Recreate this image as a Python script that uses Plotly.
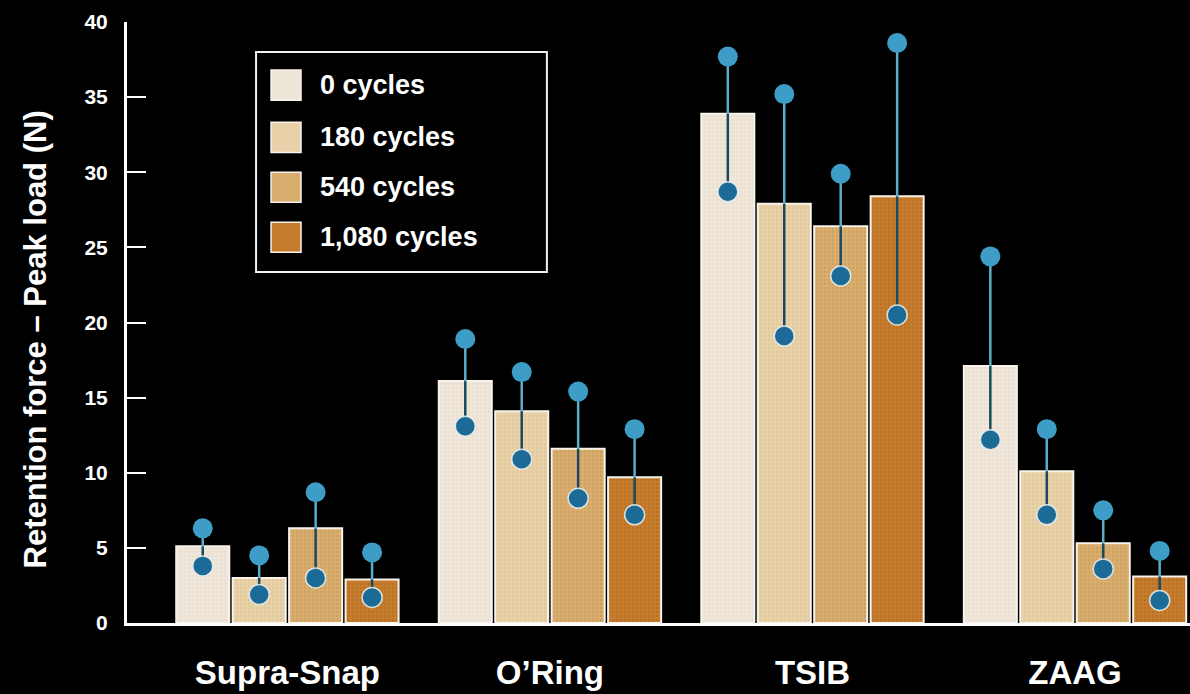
import plotly.graph_objects as go

# ---------------- data ----------------
categories = ["Supra-Snap", "O\u2019Ring", "TSIB", "ZAAG"]
series_names = ["0 cycles", "180 cycles", "540 cycles", "1,080 cycles"]

mean_0 = [5.1, 16.1, 33.9, 17.1]
mean_180 = [3.0, 14.1, 27.9, 10.1]
mean_540 = [6.3, 11.6, 26.4, 5.3]
mean_1080 = [2.9, 9.7, 28.4, 3.1]

upper_0 = [6.3, 18.9, 37.7, 24.4]
upper_180 = [4.5, 16.7, 35.2, 12.9]
upper_540 = [8.7, 15.4, 29.9, 7.5]
upper_1080 = [4.7, 12.9, 38.6, 4.8]

lower_0 = [3.8, 13.1, 28.7, 12.2]
lower_180 = [1.9, 10.9, 19.1, 7.2]
lower_540 = [3.0, 8.3, 23.1, 3.6]
lower_1080 = [1.7, 7.2, 20.5, 1.5]

y_ticks = [0, 5, 10, 15, 20, 25, 30, 35, 40]
y_title = "Retention force \u2013 Peak load (N)"

# ---------------- styling ----------------
bar_colors = ["#efe6da", "#e8d1a8", "#d9ad6d", "#c57c2c"]
texture_colors = ["#e2d6c6", "#d6bb8c", "#c0914f", "#a8621c"]
FONT = "Liberation Sans, Arial, Helvetica, sans-serif"
upper_dot = "#3d9dc7"
lower_dot = "#1c6b97"
upper_line = "#5aaec9"
lower_line = "#1b4a60"

means = [mean_0, mean_180, mean_540, mean_1080]
uppers = [upper_0, upper_180, upper_540, upper_1080]
lowers = [lower_0, lower_180, lower_540, lower_1080]

slot = 0.215
bar_w = 0.202
group_pos = list(range(len(categories)))
n = len(series_names)

fig = go.Figure()
xs_all = []
for i, name in enumerate(series_names):
    off = (i - (n - 1) / 2) * slot
    xs = [g + off for g in group_pos]
    xs_all.append(xs)
    fig.add_trace(go.Bar(
        x=xs, y=means[i], width=bar_w, name=name, showlegend=False,
        marker=dict(color=bar_colors[i],
                    line=dict(color="#f7f2ea", width=2),
                    pattern=dict(shape=".", fillmode="overlay", fgcolor=texture_colors[i],
                                 size=4, solidity=0.25)),
        hoverinfo="skip",
    ))

# error segments
for i in range(n):
    ux, uy, lx, ly = [], [], [], []
    for x, m, u, l in zip(xs_all[i], means[i], uppers[i], lowers[i]):
        ux += [x, x, None]
        uy += [m, u, None]
        lx += [x, x, None]
        ly += [l, m, None]
    fig.add_trace(go.Scatter(x=ux, y=uy, mode="lines", line=dict(color=upper_line, width=2.5),
                             showlegend=False, hoverinfo="skip"))
    fig.add_trace(go.Scatter(x=lx, y=ly, mode="lines", line=dict(color=lower_line, width=2.5),
                             showlegend=False, hoverinfo="skip"))

for i in range(n):
    fig.add_trace(go.Scatter(x=xs_all[i], y=uppers[i], mode="markers",
                             marker=dict(color=upper_dot, size=20, line=dict(width=0)),
                             showlegend=False, hoverinfo="skip"))
    fig.add_trace(go.Scatter(x=xs_all[i], y=lowers[i], mode="markers",
                             marker=dict(color=lower_dot, size=20,
                                         line=dict(color="rgba(235,240,240,0.85)", width=1.5)),
                             showlegend=False, hoverinfo="skip"))

# ---------------- manual legend ----------------
shapes = []
annotations = []
box_x0, box_x1 = 0.1214, 0.395
box_y0, box_y1 = 0.584, 0.950
shapes.append(dict(type="rect", xref="paper", yref="paper", x0=box_x0, x1=box_x1,
                   y0=box_y0, y1=box_y1, line=dict(color="#f2f2f2", width=2),
                   fillcolor="black", layer="above"))
row_tops = [0.895, 0.808, 0.725, 0.642]
for i, name in enumerate(series_names):
    yc = row_tops[i]
    shapes.append(dict(type="rect", xref="paper", yref="paper", x0=0.1355, x1=0.1637,
                       y0=yc - 0.025, y1=yc + 0.025, line=dict(color="#f7f2ea", width=1.5),
                       fillcolor=bar_colors[i], layer="above"))
    annotations.append(dict(xref="paper", yref="paper", x=0.1797, y=yc, text=name,
                            showarrow=False, xanchor="left", yanchor="middle",
                            font=dict(family=FONT, size=27, color="white", weight="bold")))

annotations.append(dict(xref="paper", yref="paper", x=0, y=0.5, xshift=-92, yshift=-17,
                        text=y_title, textangle=-90, showarrow=False,
                        xanchor="center", yanchor="middle",
                        font=dict(family=FONT, size=31, color="white", weight="bold")))

fig.update_layout(
    width=1190, height=694,
    margin=dict(l=127, r=0, t=22, b=71),
    paper_bgcolor="black", plot_bgcolor="black",
    barmode="overlay",
    shapes=shapes, annotations=annotations,
    showlegend=False,
    xaxis=dict(range=[-0.611, 3.438], tickvals=group_pos, ticktext=categories,
               showline=True, linecolor="white", linewidth=3, showgrid=False, zeroline=False,
               ticks="", ticklabelstandoff=18,
               tickfont=dict(family=FONT, size=33, color="white", weight="bold")),
    yaxis=dict(range=[0, 40], tickvals=y_ticks, showline=True, linecolor="white", linewidth=3,
               showgrid=False, zeroline=False, ticks="inside", ticklen=19, tickwidth=2,
               tickcolor="white", ticklabelstandoff=12,
               tickfont=dict(family=FONT, size=21, color="white", weight="bold")),
)

fig.write_html(
    "out.html",
    config={"displayModeBar": False},
    post_script="document.body.style.margin='0';document.body.style.background='black';"
                "document.documentElement.style.overflow='hidden';",
)
